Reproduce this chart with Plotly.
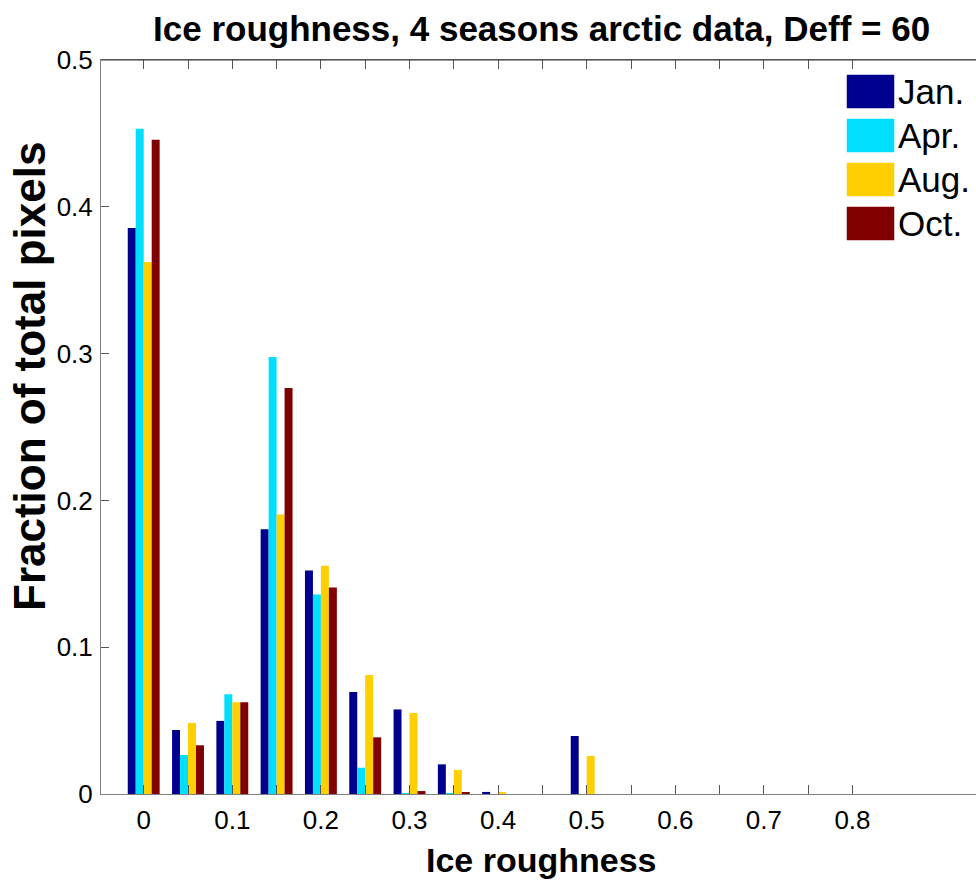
import plotly.graph_objects as go

# Roughness bin centres and the fraction of pixels per bin for each month
roughness = [0.0, 0.05, 0.10, 0.15, 0.20, 0.25, 0.30, 0.35, 0.40, 0.45, 0.50]
months = ["Jan.", "Apr.", "Aug.", "Oct."]
jan = [0.3856, 0.0436, 0.0498, 0.1804, 0.1522, 0.0695, 0.0576, 0.0202, 0.0014, 0.0, 0.0395]
apr = [0.4531, 0.0266, 0.0680, 0.2977, 0.1359, 0.0179, 0.0005, 0.0003, 0.0, 0.0, 0.0]
aug = [0.3624, 0.0484, 0.0625, 0.1904, 0.1554, 0.0811, 0.0552, 0.0164, 0.0014, 0.0, 0.0259]
oct_ = [0.4456, 0.0332, 0.0625, 0.2766, 0.1406, 0.0386, 0.0020, 0.0009, 0.0, 0.0, 0.0]
colors = ["#00008F", "#00DFFF", "#FFCF00", "#800000"]

x_tickvals = [round(0.05 * i, 2) for i in range(17)]
x_ticktext = ["0", "", "0.1", "", "0.2", "", "0.3", "", "0.4", "", "0.5", "", "0.6", "", "0.7", "", "0.8"]
y_tickvals = [0, 0.1, 0.2, 0.3, 0.4, 0.5]
y_ticktext = ["0", "0.1", "0.2", "0.3", "0.4", "0.5"]

FONT = "Liberation Sans, Arial, Helvetica, sans-serif"

fig = go.Figure()
for name, vals, col in zip(months, [jan, apr, aug, oct_], colors):
    fig.add_trace(go.Bar(x=roughness, y=vals, name=name,
                         marker=dict(color=col, line=dict(width=0))))

fig.update_layout(
    width=976, height=884,
    margin=dict(l=101, r=0, t=60, b=90),
    paper_bgcolor="white", plot_bgcolor="white",
    barmode="group", bargap=0.28, bargroupgap=0,
    showlegend=False,
    font=dict(family=FONT, color="black"),
)
fig.update_xaxes(
    range=[-0.0482, 0.9394],
    tickmode="array", tickvals=x_tickvals, ticktext=x_ticktext,
    ticks="inside", ticklen=9, tickcolor="#555", tickwidth=1,
    showline=True, linecolor="#808080", linewidth=1, mirror="ticks",
    showgrid=False, zeroline=False,
    tickfont=dict(size=26, family=FONT), ticklabelstandoff=3,
)
fig.update_yaxes(
    range=[0, 0.5],
    tickmode="array", tickvals=y_tickvals, ticktext=y_ticktext,
    ticks="inside", ticklen=8, tickcolor="#555", tickwidth=1,
    showline=True, linecolor="#808080", linewidth=1,
    showgrid=False, zeroline=False,
    tickfont=dict(size=26, family=FONT), ticklabelstandoff=2,
)

# darker frame edge along the top of the axes
fig.add_shape(type="line", xref="paper", yref="paper", x0=0, x1=1, y0=1, y1=1,
              line=dict(color="#333", width=1.2))

# Title and axis labels
fig.add_annotation(text="<b>Ice roughness, 4 seasons arctic data, Deff = 60</b>",
                   xref="paper", yref="paper", x=(541 - 101) / 875, y=1,
                   xanchor="center", yanchor="middle",
                   yshift=32, showarrow=False, font=dict(size=35, family=FONT))
fig.add_annotation(text="<b>Ice roughness</b>", xref="paper", yref="paper",
                   x=(541 - 101) / 875, y=0, xanchor="center", yanchor="middle",
                   yshift=-66, showarrow=False, font=dict(size=34, family=FONT))
fig.add_annotation(text="<b>Fraction of total pixels</b>", xref="paper", yref="paper",
                   x=0, xshift=-72, y=(794 - 377) / 734, xanchor="center", yanchor="middle",
                   textangle=-90, showarrow=False, font=dict(size=44, family=FONT))

# Legend: colour swatches with month labels
row_top = [75, 119, 163, 207]
for name, col, top in zip(months, colors, row_top):
    y0 = (794 - (top + 33)) / 734
    y1 = (794 - top) / 734
    fig.add_shape(type="rect", xref="paper", yref="paper",
                  x0=(847 - 101) / 875, x1=(894 - 101) / 875, y0=y0, y1=y1,
                  fillcolor=col, line=dict(color=col, width=0.5))
    fig.add_annotation(text=name, xref="paper", yref="paper",
                       x=(896 - 101) / 875, y=(y0 + y1) / 2, xanchor="left",
                       yanchor="middle", showarrow=False, font=dict(size=35, family=FONT))

fig.write_html("out.html")
